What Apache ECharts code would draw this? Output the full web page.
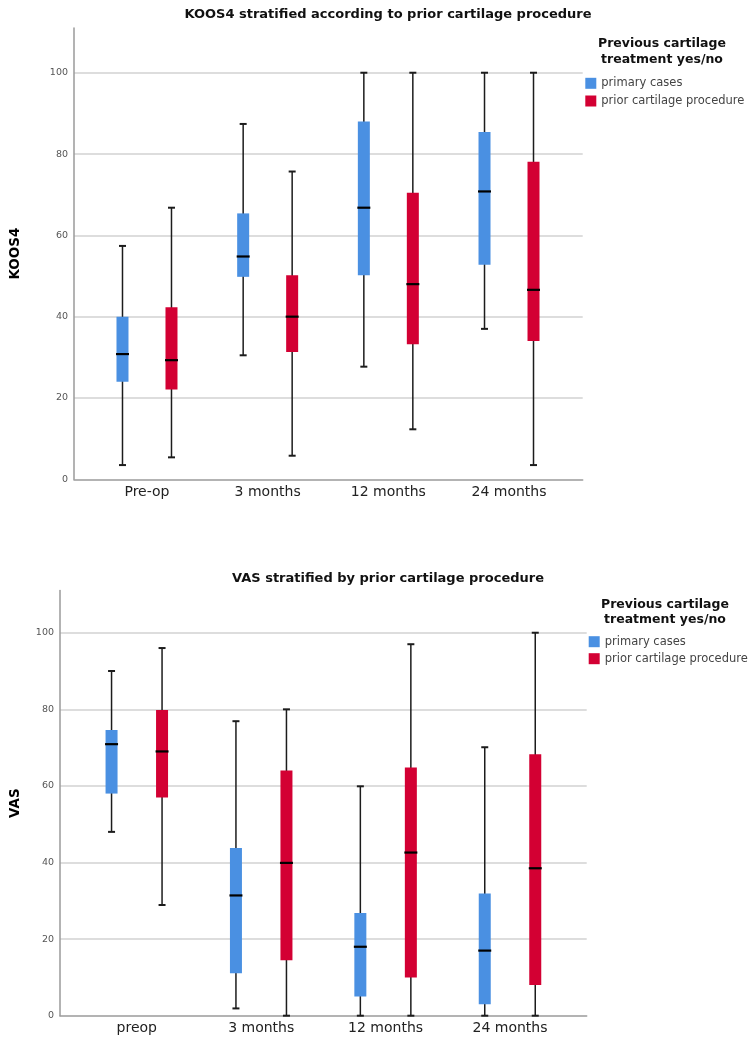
<!DOCTYPE html>
<html>
<head>
<meta charset="utf-8">
<script src="https://cdn.jsdelivr.net/npm/echarts@6/dist/echarts.min.js"></script>
<style>
html,body{margin:0;padding:0;background:#fff;}
#chart{width:749px;height:1042px;}
</style>
</head>
<body>
<div id="chart"></div>
<script>
// ---- Data ----
// each box: [min, Q1, median, Q3, max]
const koosCategories = ['Pre-op', '3 months', '12 months', '24 months'];
const koosPrimary = [
  [3.5, 24.0, 30.8, 40.0, 57.4],
  [30.5, 49.8, 54.8, 65.4, 87.4],
  [27.7, 50.2, 66.8, 88.0, 100],
  [37.0, 52.8, 70.8, 85.4, 100]
];
const koosPrior = [
  [5.4, 22.1, 29.3, 42.3, 66.8],
  [5.8, 31.3, 40.0, 50.2, 75.7],
  [12.3, 33.2, 48.0, 70.5, 100],
  [3.5, 34.0, 46.6, 78.1, 100]
];
const vasCategories = ['preop', '3 months', '12 months', '24 months'];
const vasPrimary = [
  [48.0, 58.0, 70.9, 74.6, 90.0],
  [1.9, 11.1, 31.4, 43.8, 76.9],
  [0, 5.0, 18.0, 26.8, 59.9],
  [0, 3.0, 17.0, 31.9, 70.1]
];
const vasPrior = [
  [28.9, 57.0, 69.0, 79.8, 96.0],
  [0, 14.5, 39.9, 64.0, 80.0],
  [0, 10.0, 42.6, 64.8, 97.0],
  [0, 8.0, 38.5, 68.3, 100]
];
const yTickInterval = 20;
const yMax = 111;
const seriesNames = ['primary cases', 'prior cartilage procedure'];
const titles = ['KOOS4 stratified according to prior cartilage procedure', 'VAS stratified by prior cartilage procedure'];
const yNames = ['KOOS4', 'VAS'];
const legendTitle = 'Previous cartilage\ntreatment yes/no';

// ---- Styles ----
const BLUE = '#4a90e2';
const RED = '#d30033';
const FONT = '"DejaVu Sans", "Open Sans", sans-serif';

function toItems(arr) {
  return arr.map((b, i) => [i, b[0], b[1], b[2], b[3], b[4]]);
}

function makeRender(offsetFrac, color) {
  return function (params, api) {
    const i = api.value(0);
    const band = api.size([1, 0])[0];
    const cx = api.coord([i, 0])[0] + band * offsetFrac;
    const yLo = api.coord([i, api.value(1)])[1];
    const yQ1 = api.coord([i, api.value(2)])[1];
    const yMed = api.coord([i, api.value(3)])[1];
    const yQ3 = api.coord([i, api.value(4)])[1];
    const yHi = api.coord([i, api.value(5)])[1];
    const bw = 12, cap = 7, mw = 13;
    const wStyle = { stroke: '#1c1c1c', lineWidth: 1.5 };
    return {
      type: 'group',
      children: [
        { type: 'line', shape: { x1: cx, y1: yLo, x2: cx, y2: yHi }, style: wStyle },
        { type: 'line', shape: { x1: cx - cap / 2, y1: yLo, x2: cx + cap / 2, y2: yLo }, style: { stroke: '#1c1c1c', lineWidth: 2 } },
        { type: 'line', shape: { x1: cx - cap / 2, y1: yHi, x2: cx + cap / 2, y2: yHi }, style: { stroke: '#1c1c1c', lineWidth: 2 } },
        { type: 'rect', shape: { x: cx - bw / 2, y: yQ3, width: bw, height: yQ1 - yQ3 }, style: { fill: color } },
        { type: 'line', shape: { x1: cx - mw / 2, y1: yMed, x2: cx + mw / 2, y2: yMed }, style: { stroke: '#000', lineWidth: 2.2 } }
      ]
    };
  };
}

// layout per panel
const panels = [
  { frame: { left: 73, right: 166.3, top: 28, bottom: 562.7 }, cats: { left: 86.65, right: 179.65 }, nameGap: 52,
    titleY: 15, legendX: 585.3, legendY: 77.3, legendGap: 5.7, headX: 662, headY: 51.3, headLH: 16,
    categories: koosCategories, primary: koosPrimary, prior: koosPrior },
  { frame: { left: 60, right: 162.3, top: 590.6, bottom: 26.3 }, cats: { left: 74.6, right: 176.8 }, nameGap: 38,
    titleY: 578.3, legendX: 588.7, legendY: 635.7, legendGap: 5, headX: 665, headY: 612.5, headLH: 15,
    categories: vasCategories, primary: vasPrimary, prior: vasPrior }
];

const grid = [], xAxis = [], yAxis = [], series = [], legend = [], graphic = [];
panels.forEach((p, k) => {
  const g0 = grid.length;
  grid.push({ left: p.frame.left, right: p.frame.right, top: p.frame.top, bottom: p.frame.bottom });
  grid.push({ left: p.cats.left, right: p.cats.right, top: p.frame.top, bottom: p.frame.bottom });
  xAxis.push({
    gridIndex: g0, type: 'value', min: 0, max: 1,
    axisLine: { show: true, lineStyle: { color: '#9a9a9a', width: 1.5 } },
    axisTick: { show: false }, axisLabel: { show: false }, splitLine: { show: false }
  });
  xAxis.push({
    gridIndex: g0 + 1, type: 'category', data: p.categories,
    axisLine: { show: false }, axisTick: { show: false },
    axisLabel: { margin: 6, fontSize: 14, color: '#222', fontFamily: FONT }
  });
  yAxis.push({
    gridIndex: g0, type: 'value', min: 0, max: yMax, interval: yTickInterval,
    name: yNames[k], nameLocation: 'middle', nameGap: p.nameGap,
    nameTextStyle: { fontFamily: FONT, fontWeight: 'bold', fontSize: 13.5, color: '#000' },
    axisLine: { show: true, lineStyle: { color: '#9a9a9a', width: 1.5 } },
    axisTick: { show: false },
    axisLabel: { margin: 6, fontSize: 9.5, color: '#555', fontFamily: FONT, showMaxLabel: false },
    splitLine: { show: true, showMaxLine: false, showMinLine: false, lineStyle: { color: '#d2d2d2', width: 1.5 } }
  });
  yAxis.push({ gridIndex: g0 + 1, type: 'value', min: 0, max: yMax, show: false });

  [[p.primary, -0.203, BLUE, seriesNames[0]], [p.prior, 0.203, RED, seriesNames[1]]].forEach(s => {
    series.push({
      type: 'custom', name: s[3], xAxisIndex: g0 + 1, yAxisIndex: g0 + 1,
      itemStyle: { color: s[2] },
      encode: { x: 0, y: [1, 2, 3, 4, 5] },
      data: toItems(s[0]),
      renderItem: makeRender(s[1], s[2]),
      silent: true
    });
  });

  legend.push({
    orient: 'vertical', left: p.legendX, top: p.legendY, padding: 0,
    itemWidth: 11, itemHeight: 11, itemGap: p.legendGap, icon: 'rect',
    selectedMode: false,
    textStyle: { fontFamily: FONT, fontSize: 11.5, color: '#444', lineHeight: 11, padding: 0 },
    data: seriesNames
  });

  graphic.push({
    type: 'text', x: 388, y: p.titleY, silent: true,
    style: { text: titles[k], align: 'center', verticalAlign: 'middle', textAlign: 'center', textVerticalAlign: 'middle',
      font: 'bold 13px ' + FONT, fill: '#111' }
  });
  graphic.push({
    type: 'text', x: p.headX, y: p.headY, silent: true,
    style: { text: legendTitle, align: 'center', verticalAlign: 'middle', textAlign: 'center', textVerticalAlign: 'middle',
      font: 'bold 12.5px ' + FONT, lineHeight: p.headLH, fill: '#111' }
  });
});

const chart = echarts.init(document.getElementById('chart'), null, { renderer: 'canvas' });
chart.setOption({
  backgroundColor: '#fff',
  animation: false,
  grid, xAxis, yAxis, series, legend, graphic
});
</script>
</body>
</html>
